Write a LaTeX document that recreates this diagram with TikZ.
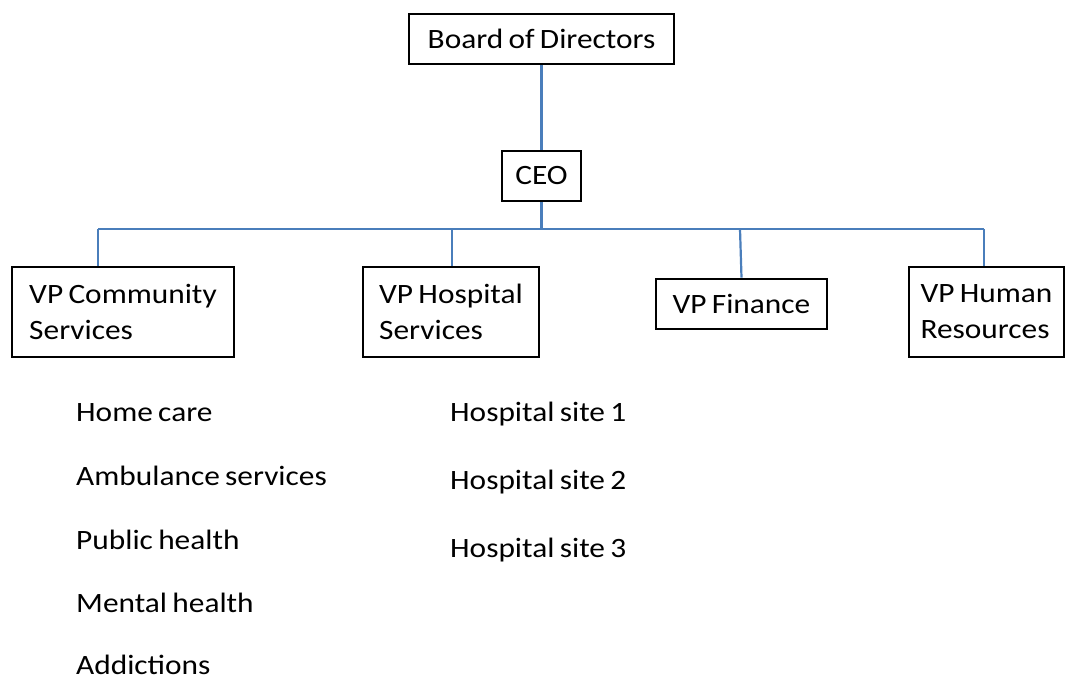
\documentclass[tikz,border=0pt]{standalone}
\usepackage{fontspec}
\setmainfont{Carlito}[FakeStretch=1.12, WordSpace=0.75]
\usetikzlibrary{positioning}
\definecolor{linkblue}{RGB}{74,126,187}

\begin{document}
\begin{tikzpicture}[x=1pt, y=-1pt,
	box/.style = {draw, line width=2.6pt, rectangle, minimum height=50pt, inner sep=0pt, font=\fontsize{28}{36}\selectfont},
	vpbox/.style = {box, minimum height=90pt, align=left},
	link/.style = {draw=linkblue, line width=2.2pt},
	item/.style = {anchor=base west, inner sep=0pt, font=\fontsize{28}{36}\selectfont}]
	\useasboundingbox (0,0) rectangle (1066,679);
	\node [box, minimum width=265pt] (board) at (541.5,39) {Board of Directors}; \node [box, minimum width=79pt] (ceo) at (541.5,176) {CEO};
	\node [vpbox, minimum width=222pt] (vpc) at (123,312) {VP Community\\Services}; \node [vpbox, minimum width=176pt] (vph) at (451,312) {VP Hospital\\Services}; \node [box, minimum width=171pt] (vpf) at (741.5,304) {VP Finance}; \node [vpbox, minimum width=155pt] (vphr) at (986.5,312) {VP Human\\Resources};
	
	\coordinate (b1) at (98,229); \coordinate (b2) at (452,229); \coordinate (b3) at (740,229); \coordinate (b4) at (984,229);
	\draw [link] (board.south) -- (ceo.north); \draw [link] (ceo.south) -- (ceo.south |- b1); \draw [link] (b1) -- (b4);
	\draw [link] (b1) -- (b1 |- vpc.north); \draw [link] (b2) -- (b2 |- vph.north); \draw [link] (b3) -- (vpf.north); \draw [link] (b4) -- (b4 |- vphr.north);
	
	\node [item] (home) at (76,421) {Home care}; \node [item] (amb) at (76,485) {Ambulance services}; \node [item] (pub) at (76,549) {Public health}; \node [item] (ment) at (76,612) {Mental health}; \node [item] (addi) at (76,674) {Addictions};
	\node [item] (site1) at (450,421) {Hospital site 1}; \node [item] (site2) at (450,489) {Hospital site 2}; \node [item] (site3) at (450,557) {Hospital site 3};
\end{tikzpicture}
\end{document}
